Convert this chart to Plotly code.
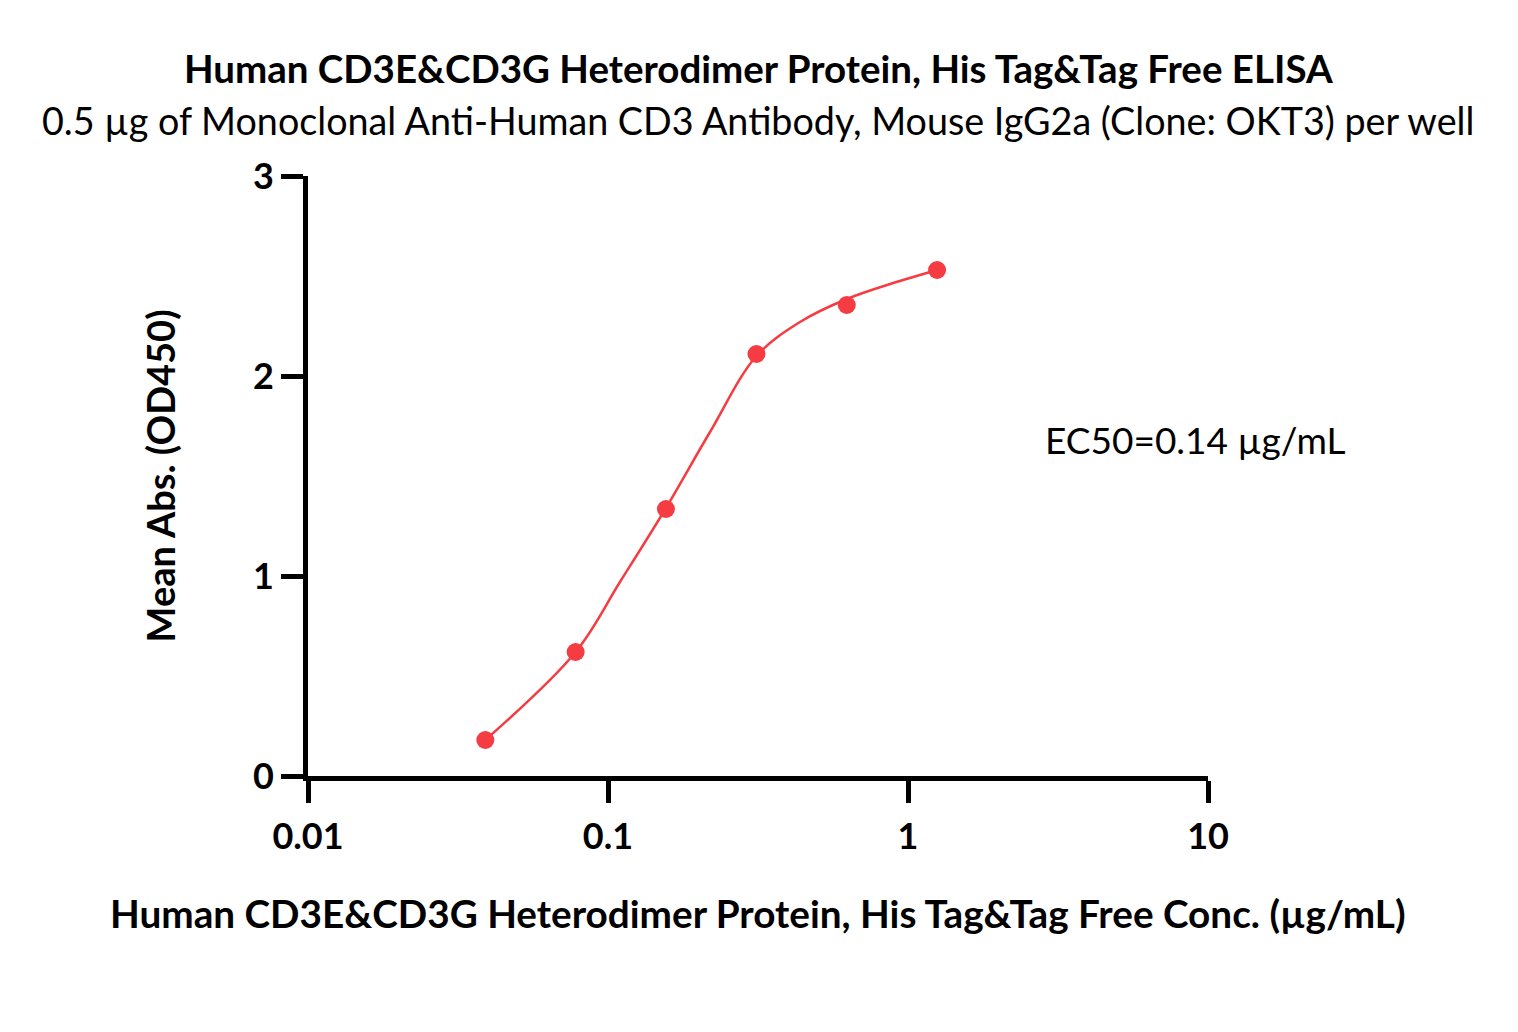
import plotly.graph_objects as go

# ELISA data
conc = [0.039, 0.078, 0.156, 0.3125, 0.625, 1.25]
mean_abs = [0.18, 0.62, 1.335, 2.11, 2.355, 2.53]

# fitted curve, points
fit_conc = [0.039, 0.078, 0.1096, 0.156, 0.2188, 0.3125, 0.4365, 0.625, 0.893, 1.25]
fit_abs = [0.18, 0.62, 0.97, 1.34, 1.72, 2.10, 2.27, 2.385, 2.465, 2.53]

x_ticks = [0.01, 0.1, 1, 10]
x_tick_text = ["0.01", "0.1", "1", "10"]
y_ticks = [0, 1, 2, 3]

RED = '#F43C42'
BLACK = '#000000'
FONT = "Lato, sans-serif"

fig = go.Figure()

fig.add_trace(go.Scatter(
    x=fit_conc, y=fit_abs,
    mode='lines',
    line=dict(color=RED, width=2.5, shape='spline', smoothing=1.0),
    hoverinfo='skip'
))

fig.add_trace(go.Scatter(
    x=conc, y=mean_abs,
    mode='markers',
    marker=dict(color=RED, size=18),
    cliponaxis=False
))

ann_font = dict(family=FONT, color=BLACK)
centered = dict(xref="paper", yref="paper", showarrow=False,
                xanchor='center', yanchor='middle')

fig.add_annotation(
    text="<b>Human CD3E&CD3G Heterodimer Protein, His Tag&Tag Free ELISA</b>",
    x=0.5, y=1.18, font=dict(size=38.5, **ann_font), **centered
)
fig.add_annotation(
    text="0.5 µg of Monoclonal Anti-Human CD3 Antibody, Mouse IgG2a (Clone: OKT3) per well",
    x=0.5, y=1.093, font=dict(size=37.7, **ann_font), **centered
)
fig.add_annotation(
    text="<b>Human CD3E&CD3G Heterodimer Protein, His Tag&Tag Free Conc. (µg/mL)</b>",
    x=0.5, y=-0.228, font=dict(size=38.7, **ann_font), **centered
)
fig.add_annotation(
    text="<b>Mean Abs. (OD450)</b>",
    x=-0.164, y=0.5, textangle=-90,
    font=dict(size=38, **ann_font), **centered
)
fig.add_annotation(
    text="EC50=0.14 µg/mL",
    x=0.986, y=0.56, font=dict(size=37, **ann_font), **centered
)

fig.update_layout(
    width=1518, height=1032,
    margin=dict(l=300, r=318, t=168, b=264),
    paper_bgcolor='white',
    plot_bgcolor='white',
    showlegend=False,
    font=dict(family=FONT, color=BLACK),
    xaxis=dict(
        type='log',
        range=[-2, 1],
        tickvals=x_ticks,
        ticktext=x_tick_text,
        ticks='outside', ticklen=22, tickwidth=5, tickcolor=BLACK,
        showline=True, linewidth=5, linecolor=BLACK,
        showgrid=False, zeroline=False,
        tickfont=dict(family=FONT, size=36, color=BLACK, weight='bold'),
        ticklabelstandoff=3
    ),
    yaxis=dict(
        range=[0, 3],
        tickvals=y_ticks,
        ticks='outside', ticklen=22, tickwidth=5, tickcolor=BLACK,
        showline=True, linewidth=5, linecolor=BLACK,
        showgrid=False, zeroline=False,
        tickfont=dict(family=FONT, size=36, color=BLACK, weight='bold'),
        ticklabelstandoff=0
    )
)

fig.write_html("out.html")
